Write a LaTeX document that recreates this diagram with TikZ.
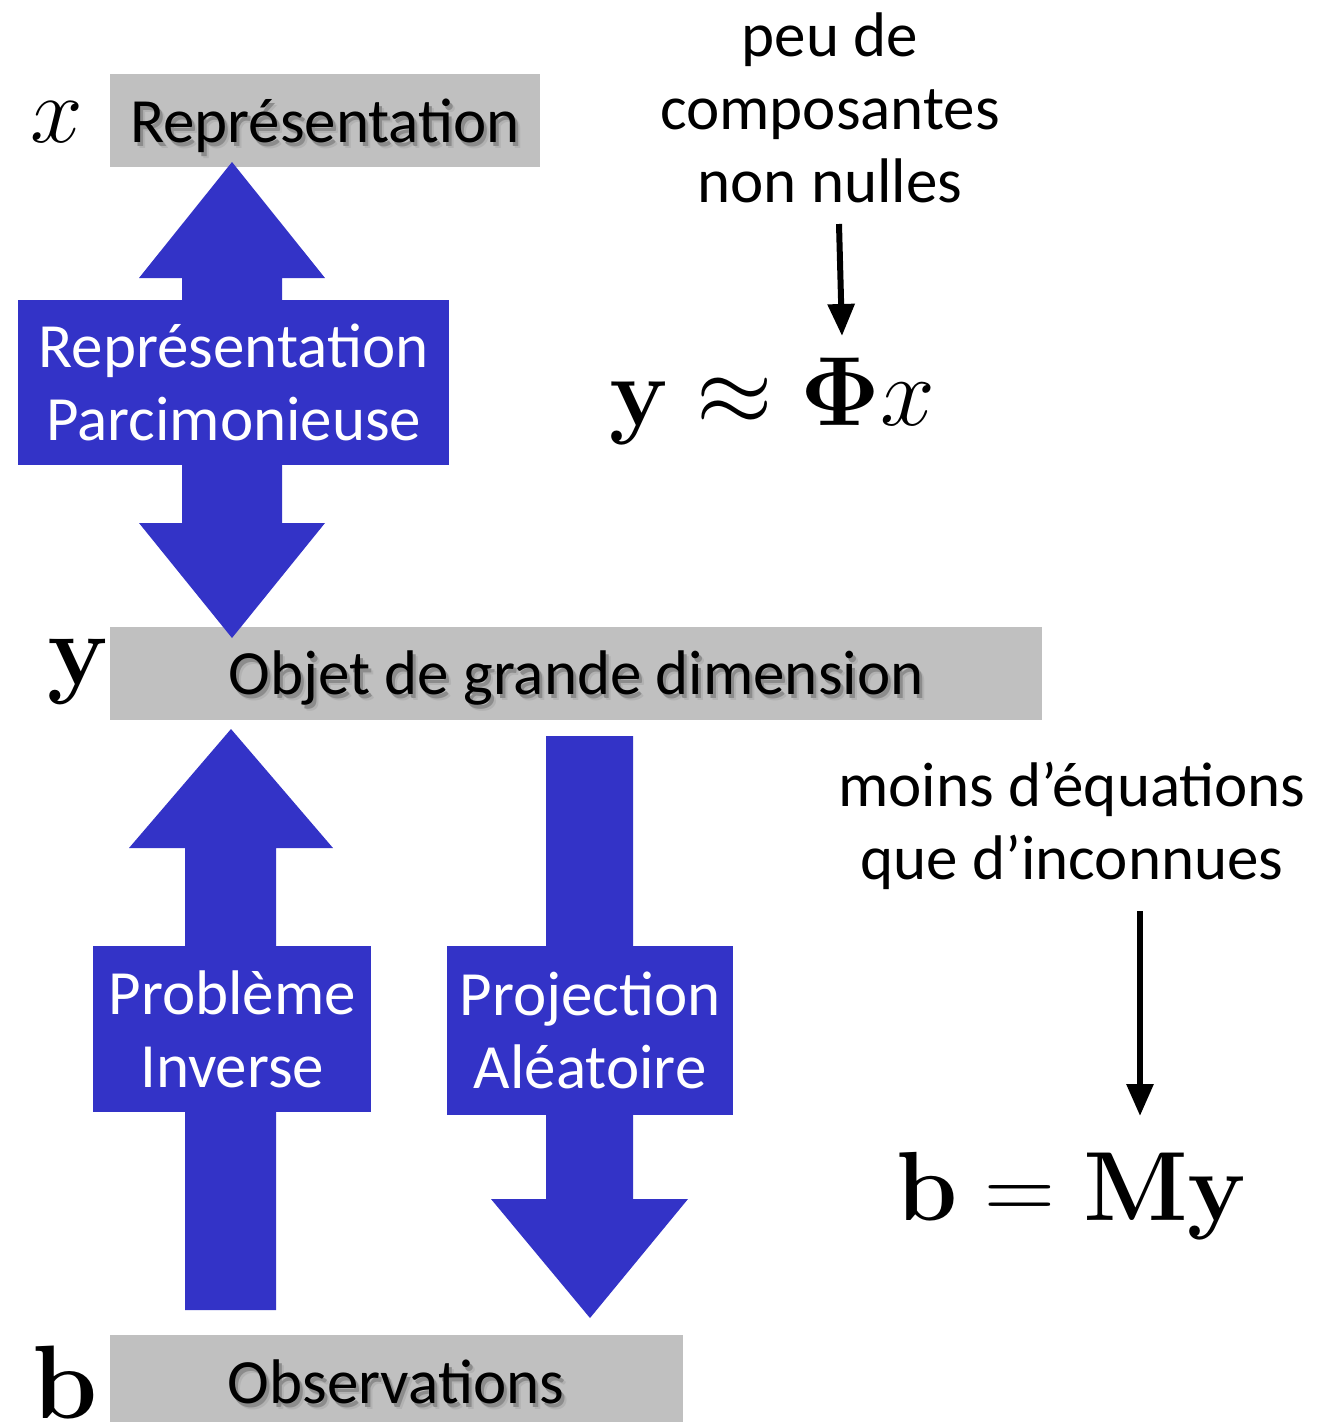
\documentclass[tikz,border=0pt]{standalone}
\usepackage{amsmath}
\usepackage{graphicx}
\usepackage[no-math]{fontspec}
\newfontfamily\gill{Carlito}
\usetikzlibrary{arrows.meta}
\definecolor{dblue}{RGB}{51,51,199}
\definecolor{lgray}{RGB}{192,192,192}
\newcommand\shtext[1]{\leavevmode\rlap{\kern5pt\raisebox{-6pt}{\color{black!30}#1}}\rlap{\kern3pt\raisebox{-4pt}{\color{black!45}#1}}#1}
\newcommand\bigmath[2]{\scalebox{#1}{\fontsize{24.88}{26}\selectfont$#2$}}
\tikzset{
  txt/.style={inner sep=0pt, font=\gill\fontsize{63}{73}\selectfont, align=center},
  graybox/.style={fill=lgray, inner sep=0pt, anchor=north west},
  graytext/.style={inner sep=0pt, anchor=base, font=\gill\fontsize{63}{73}\selectfont},
  bluebox/.style={fill=dblue, text=white, inner sep=0pt, anchor=north west, align=center, font=\gill\fontsize{63}{73}\selectfont},
  bluearrow/.style={fill=dblue},
  mathlbl/.style={inner sep=0pt, anchor=base},
  blackarrow/.style={line width=6pt, -{Triangle[length=32pt,width=26pt]}}
}
\begin{document}
\begin{tikzpicture}[x=1pt,y=-1pt]
\useasboundingbox (0,0) rectangle (1331,1422);
% gray boxes
\node[graybox, minimum width=430, minimum height=93] (rep) at (110,74) {};
\node[graytext] (reptxt) at (325,142) {\shtext{Représentation}};
\node[graybox, minimum width=932, minimum height=93] (obj) at (110,627) {};
\node[graytext] (objtxt) at (576,694) {\shtext{Objet de grande dimension}};
\node[graybox, minimum width=573, minimum height=90] (obs) at (110,1335) {};
\node[graytext] (obstxt) at (396,1403) {\shtext{Observations}};
% blue arrows
\fill[bluearrow] (232,162) -- (325,278) -- (282,278) -- (282,523) -- (325,523) -- (232,638)
  -- (139,523) -- (182,523) -- (182,278) -- (139,278) -- cycle;
\fill[bluearrow] (231,729) -- (333,848) -- (276,848) -- (276,1310) -- (185,1310) -- (185,848) -- (129,848) -- cycle;
\fill[bluearrow] (546,736) -- (633,736) -- (633,1199) -- (688,1199) -- (590,1318) -- (491,1199) -- (546,1199) -- cycle;
% blue boxes
\node[bluebox, minimum width=431, minimum height=165] (parc) at (18,300) {Représentation\\Parcimonieuse};
\node[bluebox, minimum width=278, minimum height=166] (inv) at (93,946) {Problème\\Inverse};
\node[bluebox, minimum width=286, minimum height=169] (proj) at (447,946) {Projection\\Aléatoire};
% math labels
\node[mathlbl] (lx) at (57,142) {\bigmath{3.8}{x}};
\node[mathlbl] (ly) at (79,684) {\bigmath{4.1}{\mathbf{y}}};
\node[mathlbl] (lb) at (65,1418) {\bigmath{4.2}{\mathbf{b}}};
% right side
\node[txt] (peu) at (830,108) {peu de\\composantes\\non nulles};
\node[mathlbl] (eq1) at (772,425) {\bigmath{3.95}{\mathbf{y}\approx\mathbf{\Phi}x}};
\node[txt] (moins) at (1072,826) {moins d’équations\\que d’inconnues};
\node[mathlbl] (eq2) at (1072,1220) {\bigmath{3.95}{\mathbf{b}=\mathbf{My}}};
\coordinate (a1s) at (839,224);
\coordinate (a1e) at (842,336);
\coordinate (a2s) at (1140,911);
\coordinate (a2e) at (1140,1116);
\draw[blackarrow] (a1s) -- (a1e);
\draw[blackarrow] (a2s) -- (a2e);
\end{tikzpicture}
\end{document}
